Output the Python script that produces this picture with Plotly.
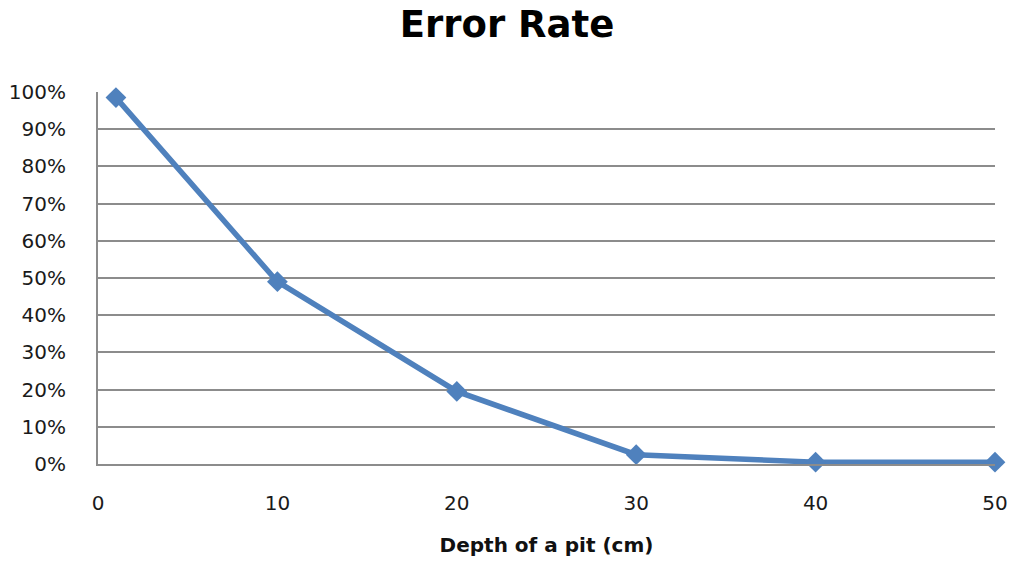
import plotly.graph_objects as go

depth = [1, 10, 20, 30, 40, 50]
error_rate = [0.985, 0.49, 0.195, 0.025, 0.005, 0.005]
x_ticks = [0, 10, 20, 30, 40, 50]
y_ticks = [0, 0.1, 0.2, 0.3, 0.4, 0.5, 0.6, 0.7, 0.8, 0.9, 1.0]
y_labels = [f"{int(round(v*100))}%" for v in y_ticks]

fig = go.Figure()
fig.add_trace(go.Scatter(
    x=depth, y=error_rate, mode="lines+markers",
    line=dict(color="#4F81BD", width=5.5),
    marker=dict(symbol="diamond", size=16, color="#4F81BD"),
    cliponaxis=False, showlegend=False,
))

font_family = "DejaVu Sans, sans-serif"
fig.update_layout(
    width=1014, height=564,
    margin=dict(l=98, r=19, t=92, b=100, autoexpand=False),
    paper_bgcolor="white", plot_bgcolor="white",
    font=dict(family=font_family, size=20, color="#1a1a1a"),
    title=dict(text="<b>Error Rate</b>", x=0.5, xanchor="center", y=0.957, yanchor="middle",
               font=dict(size=37, color="black", family=font_family)),
    xaxis=dict(range=[0, 50], tickvals=x_ticks, showgrid=False, showline=True,
               linecolor="#8c8c8c", linewidth=2, ticks="", ticklabelstandoff=20,
               zeroline=False, tickfont=dict(size=20), automargin=False,
               title=dict(text="<b>Depth of a pit (cm)</b>", standoff=24,
                          font=dict(size=20, color="#111"))),
    yaxis=dict(range=[0, 1], tickvals=y_ticks, ticktext=y_labels, showgrid=True,
               gridcolor="#8c8c8c", gridwidth=2, showline=True, linecolor="#8c8c8c",
               linewidth=2, ticks="", ticklabelstandoff=26, zeroline=False,
               tickfont=dict(size=20), automargin=False),
)

fig.write_html("out.html")
